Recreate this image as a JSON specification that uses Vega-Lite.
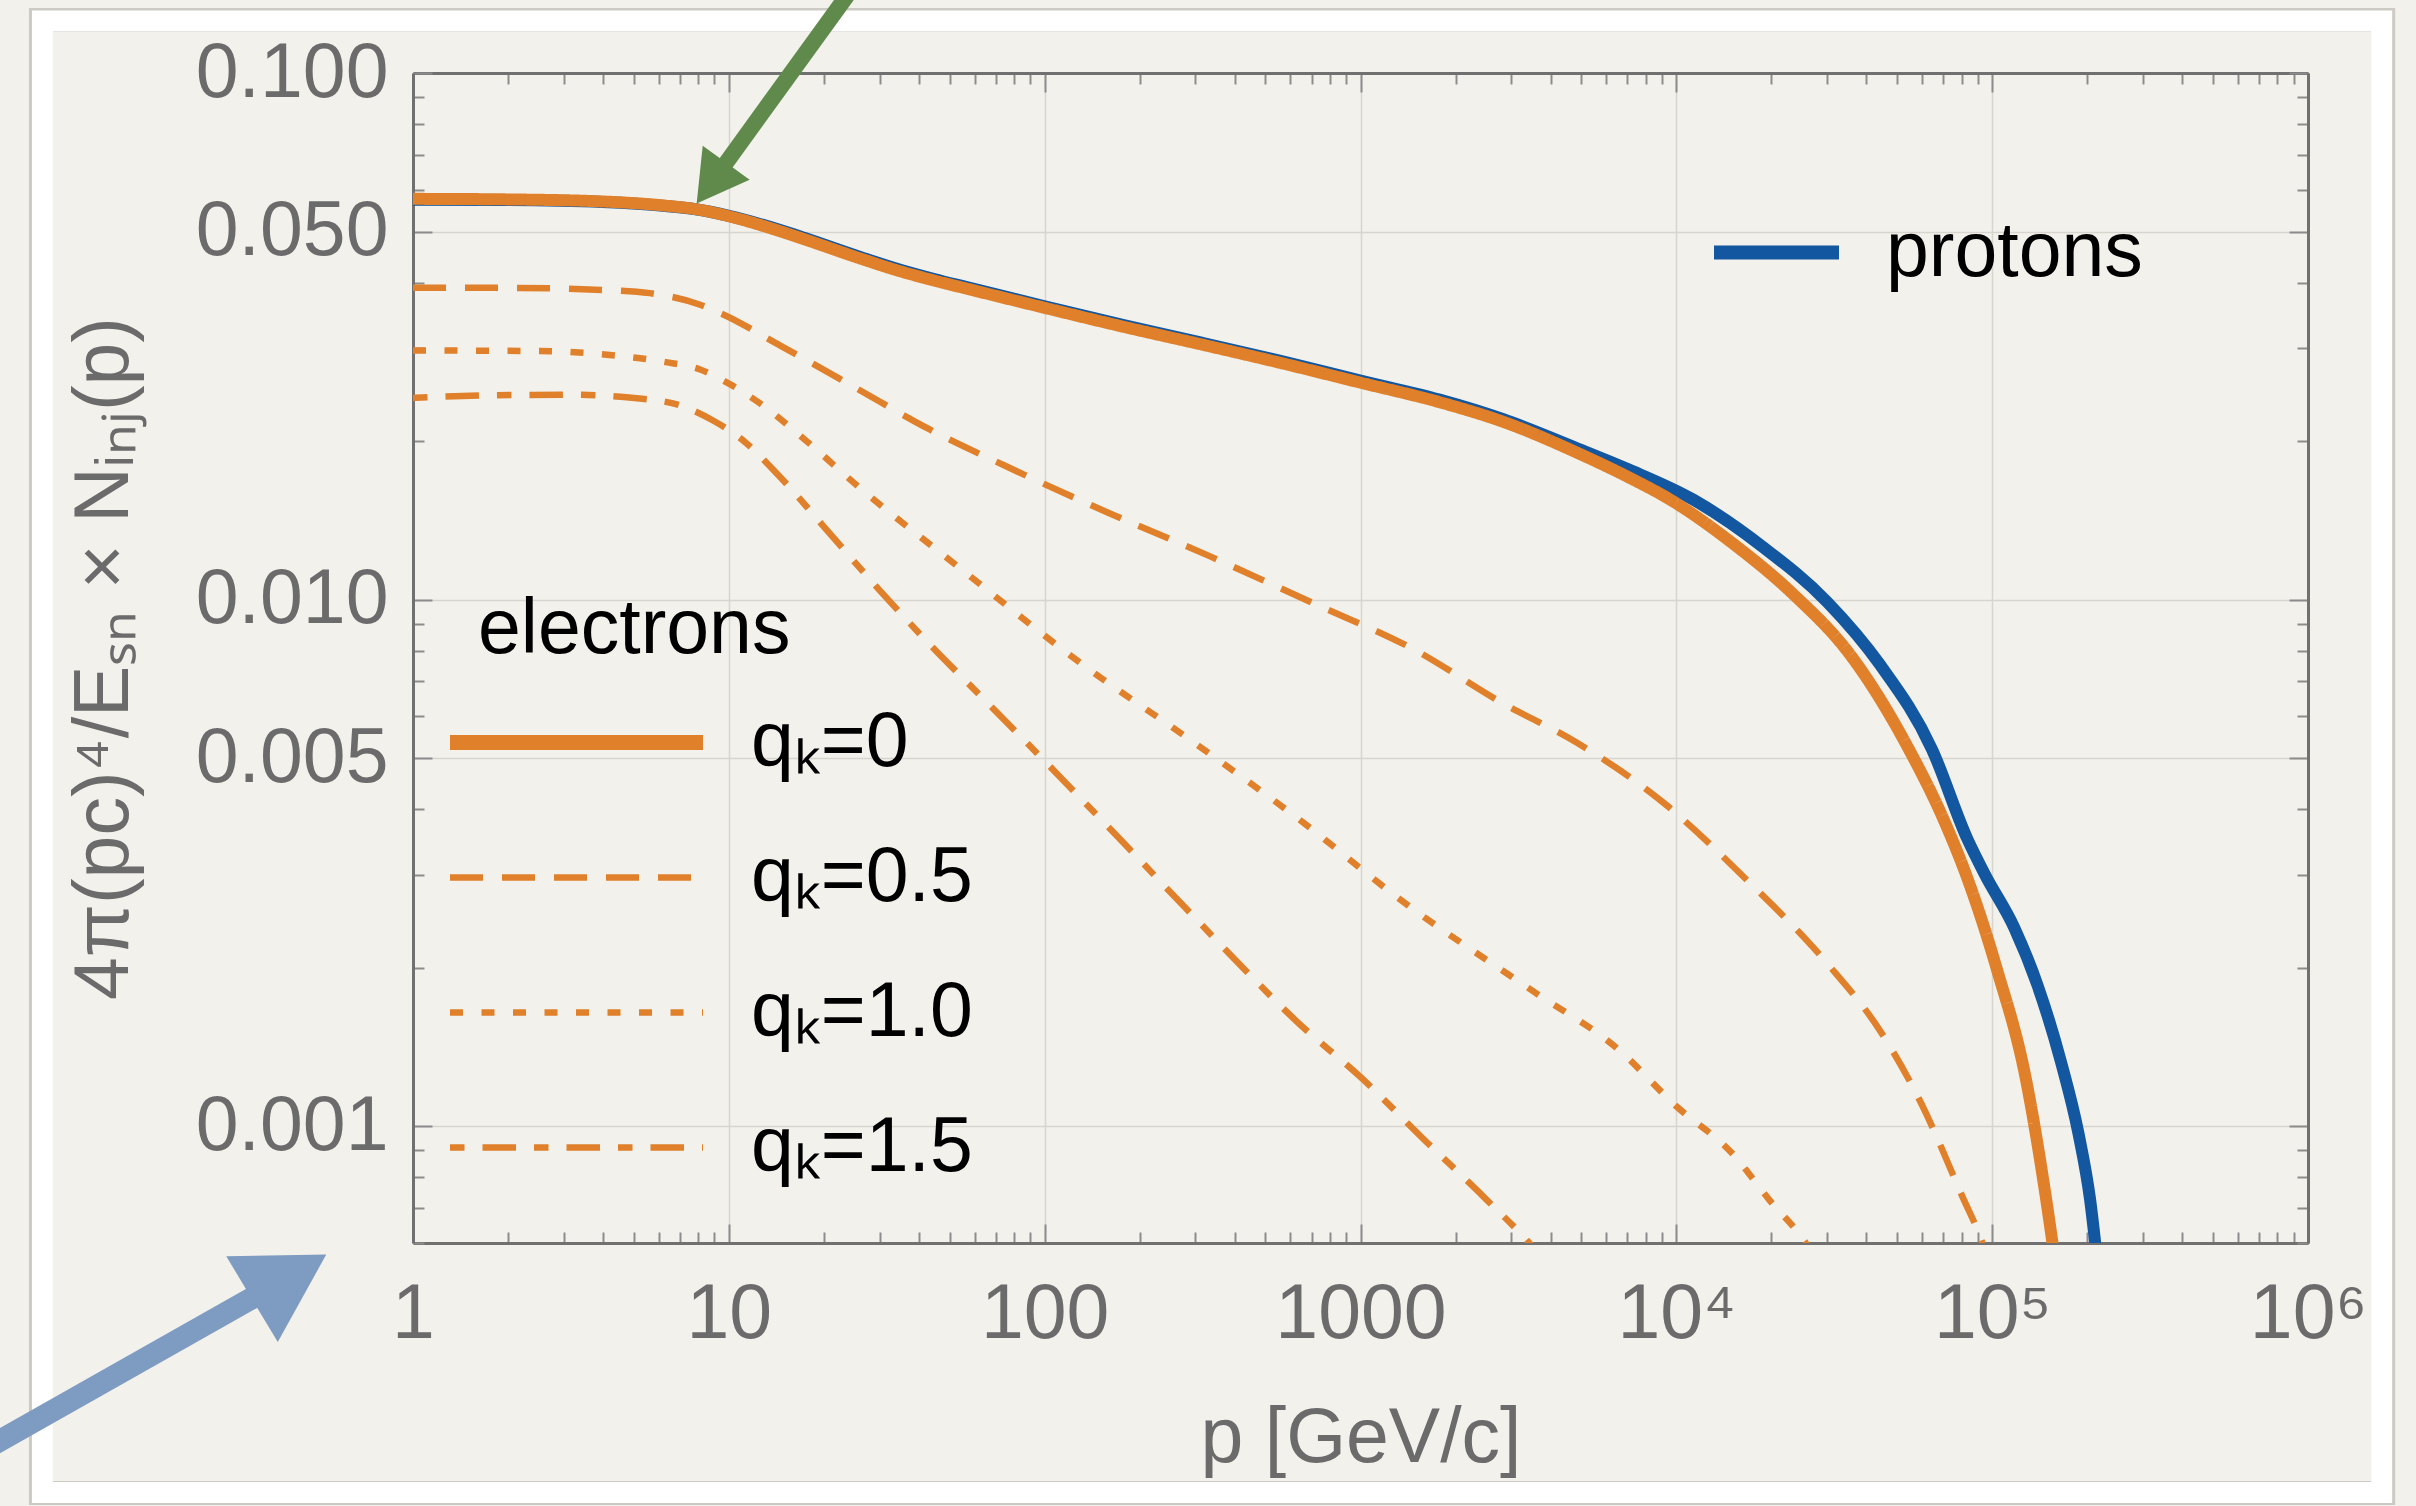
{
  "$schema": "https://vega.github.io/schema/vega-lite/v6.json",
  "width": 1895,
  "height": 1170,
  "autosize": {"type": "none"},
  "padding": {"left": 413, "top": 73, "right": 108, "bottom": 263},
  "background": "#F3F1EC",
  "config": {
    "view": {"stroke": null},
    "font": "Liberation Sans"
  },
  "datasets": {
    "curves": [
      {"series": "protons", "p": 1, "v": 0.05748},
      {"series": "protons", "p": 1.995, "v": 0.0574},
      {"series": "protons", "p": 3.981, "v": 0.0569},
      {"series": "protons", "p": 6.31, "v": 0.0559},
      {"series": "protons", "p": 7.943, "v": 0.05505},
      {"series": "protons", "p": 10, "v": 0.05355},
      {"series": "protons", "p": 14.45, "v": 0.05038},
      {"series": "protons", "p": 17.38, "v": 0.0486},
      {"series": "protons", "p": 26.3, "v": 0.04465},
      {"series": "protons", "p": 34.67, "v": 0.04235},
      {"series": "protons", "p": 44.67, "v": 0.04062},
      {"series": "protons", "p": 56.23, "v": 0.03924},
      {"series": "protons", "p": 100, "v": 0.03605},
      {"series": "protons", "p": 177.8, "v": 0.0332},
      {"series": "protons", "p": 316.2, "v": 0.03072},
      {"series": "protons", "p": 562.3, "v": 0.02836},
      {"series": "protons", "p": 1000, "v": 0.02606},
      {"series": "protons", "p": 1778, "v": 0.02398},
      {"series": "protons", "p": 2818, "v": 0.02203},
      {"series": "protons", "p": 5012, "v": 0.01923},
      {"series": "protons", "p": 7079, "v": 0.01766},
      {"series": "protons", "p": 11298, "v": 0.01549},
      {"series": "protons", "p": 18793, "v": 0.01259},
      {"series": "protons", "p": 30061, "v": 0.00989},
      {"series": "protons", "p": 44055, "v": 0.007534},
      {"series": "protons", "p": 64565, "v": 0.005188},
      {"series": "protons", "p": 83368, "v": 0.003516},
      {"series": "protons", "p": 94842, "v": 0.003006},
      {"series": "protons", "p": 117490, "v": 0.002382},
      {"series": "protons", "p": 139316, "v": 0.001849},
      {"series": "protons", "p": 165196, "v": 0.001324},
      {"series": "protons", "p": 187499, "v": 0.0009705},
      {"series": "protons", "p": 204174, "v": 0.0007261},
      {"series": "protons", "p": 218776, "v": 0.0005012},

      {"series": "qₖ=0", "p": 1, "v": 0.05768},
      {"series": "qₖ=0", "p": 1.995, "v": 0.05754},
      {"series": "qₖ=0", "p": 3.981, "v": 0.05702},
      {"series": "qₖ=0", "p": 6.31, "v": 0.05598},
      {"series": "qₖ=0", "p": 7.943, "v": 0.05508},
      {"series": "qₖ=0", "p": 10, "v": 0.05346},
      {"series": "qₖ=0", "p": 14.45, "v": 0.05012},
      {"series": "qₖ=0", "p": 17.38, "v": 0.04831},
      {"series": "qₖ=0", "p": 26.3, "v": 0.04436},
      {"series": "qₖ=0", "p": 34.67, "v": 0.04207},
      {"series": "qₖ=0", "p": 44.67, "v": 0.04036},
      {"series": "qₖ=0", "p": 56.23, "v": 0.03899},
      {"series": "qₖ=0", "p": 100, "v": 0.03581},
      {"series": "qₖ=0", "p": 177.8, "v": 0.03296},
      {"series": "qₖ=0", "p": 316.2, "v": 0.03048},
      {"series": "qₖ=0", "p": 562.3, "v": 0.02812},
      {"series": "qₖ=0", "p": 1000, "v": 0.02582},
      {"series": "qₖ=0", "p": 1778, "v": 0.02371},
      {"series": "qₖ=0", "p": 2818, "v": 0.02178},
      {"series": "qₖ=0", "p": 5012, "v": 0.01884},
      {"series": "qₖ=0", "p": 7079, "v": 0.01706},
      {"series": "qₖ=0", "p": 9550, "v": 0.01549},
      {"series": "qₖ=0", "p": 15205, "v": 0.01274},
      {"series": "qₖ=0", "p": 23281, "v": 0.01028},
      {"series": "qₖ=0", "p": 35645, "v": 0.007834},
      {"series": "qₖ=0", "p": 54576, "v": 0.005188},
      {"series": "qₖ=0", "p": 70469, "v": 0.003802},
      {"series": "qₖ=0", "p": 83560, "v": 0.002951},
      {"series": "qₖ=0", "p": 103276, "v": 0.001995},
      {"series": "qₖ=0", "p": 127938, "v": 0.001227},
      {"series": "qₖ=0", "p": 148252, "v": 0.0007261},
      {"series": "qₖ=0", "p": 165959, "v": 0.0004467},

      {"series": "qₖ=0.5", "p": 1, "v": 0.03908},
      {"series": "qₖ=0.5", "p": 1.995, "v": 0.03908},
      {"series": "qₖ=0.5", "p": 3.981, "v": 0.03873},
      {"series": "qₖ=0.5", "p": 5.623, "v": 0.03819},
      {"series": "qₖ=0.5", "p": 8.11, "v": 0.03631},
      {"series": "qₖ=0.5", "p": 9.408, "v": 0.03499},
      {"series": "qₖ=0.5", "p": 14.69, "v": 0.03027},
      {"series": "qₖ=0.5", "p": 24.72, "v": 0.02541},
      {"series": "qₖ=0.5", "p": 43.25, "v": 0.02104},
      {"series": "qₖ=0.5", "p": 75.51, "v": 0.01791},
      {"series": "qₖ=0.5", "p": 158.9, "v": 0.01462},
      {"series": "qₖ=0.5", "p": 334.2, "v": 0.01208},
      {"series": "qₖ=0.5", "p": 703.1, "v": 0.009863},
      {"series": "qₖ=0.5", "p": 1479, "v": 0.008035},
      {"series": "qₖ=0.5", "p": 2805, "v": 0.006368},
      {"series": "qₖ=0.5", "p": 4819, "v": 0.005358},
      {"series": "qₖ=0.5", "p": 9120, "v": 0.004111},
      {"series": "qₖ=0.5", "p": 16558, "v": 0.002951},
      {"series": "qₖ=0.5", "p": 30061, "v": 0.002037},
      {"series": "qₖ=0.5", "p": 44055, "v": 0.001521},
      {"series": "qₖ=0.5", "p": 59429, "v": 0.001109},
      {"series": "qₖ=0.5", "p": 79983, "v": 0.0007413},
      {"series": "qₖ=0.5", "p": 92897, "v": 0.0006026},
      {"series": "qₖ=0.5", "p": 102329, "v": 0.0005012},

      {"series": "qₖ=1.0", "p": 1, "v": 0.02972},
      {"series": "qₖ=1.0", "p": 2.512, "v": 0.02965},
      {"series": "qₖ=1.0", "p": 4.467, "v": 0.02904},
      {"series": "qₖ=1.0", "p": 6.31, "v": 0.02825},
      {"series": "qₖ=1.0", "p": 8.11, "v": 0.02735},
      {"series": "qₖ=1.0", "p": 10.14, "v": 0.02559},
      {"series": "qₖ=1.0", "p": 12.59, "v": 0.02355},
      {"series": "qₖ=1.0", "p": 17.7, "v": 0.01995},
      {"series": "qₖ=1.0", "p": 25.64, "v": 0.01641},
      {"series": "qₖ=1.0", "p": 53.09, "v": 0.01156},
      {"series": "qₖ=1.0", "p": 134.3, "v": 0.007464},
      {"series": "qₖ=1.0", "p": 288.4, "v": 0.00542},
      {"series": "qₖ=1.0", "p": 625.2, "v": 0.003864},
      {"series": "qₖ=1.0", "p": 1380, "v": 0.002655},
      {"series": "qₖ=1.0", "p": 3565, "v": 0.001795},
      {"series": "qₖ=1.0", "p": 6486, "v": 0.001406},
      {"series": "qₖ=1.0", "p": 10000, "v": 0.001091},
      {"series": "qₖ=1.0", "p": 15205, "v": 0.000881},
      {"series": "qₖ=1.0", "p": 19634, "v": 0.0007261},
      {"series": "qₖ=1.0", "p": 25586, "v": 0.0006026},
      {"series": "qₖ=1.0", "p": 28840, "v": 0.000537},

      {"series": "qₖ=1.5", "p": 1, "v": 0.02415},
      {"series": "qₖ=1.5", "p": 1.778, "v": 0.02443},
      {"series": "qₖ=1.5", "p": 3.162, "v": 0.02449},
      {"series": "qₖ=1.5", "p": 5.012, "v": 0.02415},
      {"series": "qₖ=1.5", "p": 7.079, "v": 0.02333},
      {"series": "qₖ=1.5", "p": 8.913, "v": 0.02188},
      {"series": "qₖ=1.5", "p": 11.22, "v": 0.01995},
      {"series": "qₖ=1.5", "p": 14.16, "v": 0.01738},
      {"series": "qₖ=1.5", "p": 20.56, "v": 0.01349},
      {"series": "qₖ=1.5", "p": 29.79, "v": 0.01047},
      {"series": "qₖ=1.5", "p": 43.25, "v": 0.008222},
      {"series": "qₖ=1.5", "p": 65.92, "v": 0.006368},
      {"series": "qₖ=1.5", "p": 109.9, "v": 0.004656},
      {"series": "qₖ=1.5", "p": 177, "v": 0.003459},
      {"series": "qₖ=1.5", "p": 283.8, "v": 0.00257},
      {"series": "qₖ=1.5", "p": 422.7, "v": 0.002004},
      {"series": "qₖ=1.5", "p": 625.2, "v": 0.001585},
      {"series": "qₖ=1.5", "p": 1005, "v": 0.001236},
      {"series": "qₖ=1.5", "p": 1618, "v": 0.0009333},
      {"series": "qₖ=1.5", "p": 2500, "v": 0.0007261},
      {"series": "qₖ=1.5", "p": 3565, "v": 0.0005834},
      {"series": "qₖ=1.5", "p": 3981, "v": 0.000537}
    ]
  },
  "resolve": {"axis": {"x": "independent", "y": "independent"}},
  "layer": [
    {
      "data": {"values": [{}]},
      "mark": {"type": "rect", "filled": false, "stroke": "#CDCAC4", "strokeWidth": 24, "clip": false},
      "encoding": {
        "x": {"datum": 0.06638, "type": "quantitative", "scale": {"type": "log"}, "axis": null},
        "x2": {"datum": 1730000},
        "y": {"datum": 0.12606, "type": "quantitative", "scale": {"type": "log"}, "axis": null},
        "y2": {"datum": 0.00020115}
      }
    },
    {
      "data": {"values": [{}]},
      "mark": {"type": "rect", "filled": false, "stroke": "#FFFFFF", "strokeWidth": 21, "clip": false},
      "encoding": {
        "x": {"datum": 0.06711, "type": "quantitative", "scale": {"type": "log"}, "axis": null},
        "x2": {"datum": 1711200},
        "y": {"datum": 0.12551, "type": "quantitative", "scale": {"type": "log"}, "axis": null},
        "y2": {"datum": 0.00020159}
      }
    },
    {
      "data": {"name": "curves"},
      "transform": [{"filter": "datum.series === 'protons'"}],
      "mark": {"type": "line", "strokeWidth": 12, "interpolate": "monotone", "clip": true, "strokeJoin": "round"},
      "encoding": {
        "x": {
          "field": "p", "type": "quantitative",
          "scale": {"type": "log", "domain": [1, 1000000], "nice": false},
          "axis": {
            "orient": "bottom",
            "values": [1,2,3,4,5,6,7,8,9,10,20,30,40,50,60,70,80,90,100,200,300,400,500,600,700,800,900,1000,2000,3000,4000,5000,6000,7000,8000,9000,10000,20000,30000,40000,50000,60000,70000,80000,90000,100000,200000,300000,400000,500000,600000,700000,800000,900000,1000000],
            "labelExpr": "datum.value === 10000 ? '10⁴' : datum.value === 100000 ? '10⁵' : datum.value === 1000000 ? '10⁶' : (indexof([1,10,100,1000], datum.value) >= 0 ? format(datum.value, 'd') : '')",
            "labelOverlap": false, "labelFlush": false, "labelLimit": 1000,
            "labelFont": "Liberation Sans", "labelFontSize": 77, "labelColor": "#6B6B6B", "labelPadding": 52,
            "tickSize": {"condition": {"test": "indexof([1,10,100,1000,10000,100000,1000000], datum.value) >= 0", "value": -19}, "value": -11},
            "tickColor": "#8C8C8C", "tickWidth": 2,
            "domainColor": "#707070", "domainWidth": 3,
            "grid": true, "gridColor": "#D8D5CF", "gridWidth": 1.5,
            "gridOpacity": {"condition": {"test": "indexof([1,10,100,1000,10000,100000,1000000], datum.value) >= 0", "value": 1}, "value": 0},
            "title": "p [GeV/c]", "titleFont": "Liberation Sans", "titleFontSize": 77, "titleFontWeight": "normal", "titleColor": "#6B6B6B", "titlePadding": 40
          }
        },
        "y": {
          "field": "v", "type": "quantitative",
          "scale": {"type": "log", "domain": [0.0006, 0.1], "nice": false},
          "axis": {
            "orient": "left",
            "values": [0.0006,0.0007,0.0008,0.0009,0.001,0.002,0.003,0.004,0.005,0.006,0.007,0.008,0.009,0.01,0.02,0.03,0.04,0.05,0.06,0.07,0.08,0.09,0.1],
            "labelExpr": "indexof([0.001,0.005,0.01,0.05,0.1], datum.value) >= 0 ? format(datum.value, '.3f') : ''",
            "labelOverlap": false, "labelFlush": false, "labelLimit": 1000,
            "labelFont": "Liberation Sans", "labelFontSize": 77, "labelColor": "#6B6B6B", "labelPadding": 44,
            "tickSize": {"condition": {"test": "indexof([0.001,0.005,0.01,0.05,0.1], datum.value) >= 0", "value": -19}, "value": -11},
            "tickColor": "#8C8C8C", "tickWidth": 2,
            "domainColor": "#707070", "domainWidth": 3,
            "grid": true, "gridColor": "#D8D5CF", "gridWidth": 1.5,
            "gridOpacity": {"condition": {"test": "indexof([0.001,0.005,0.01,0.05,0.1], datum.value) >= 0", "value": 1}, "value": 0},
            "title": "4π(pc)⁴/Eₛₙ × Nᵢₙⱼ(p)", "titleFont": "Liberation Sans", "titleFontSize": 77, "titleFontWeight": "normal", "titleColor": "#6B6B6B", "titlePadding": 70
          }
        },
        "stroke": {
          "field": "series", "type": "nominal",
          "scale": {"domain": ["protons"], "range": ["#12579F"]},
          "legend": {
            "orient": "none", "legendX": 1294, "legendY": 110, "title": null, "padding": 0,
            "symbolType": "stroke", "symbolSize": 15625, "symbolStrokeWidth": 14,
            "labelFont": "Liberation Sans", "labelFontSize": 77, "labelColor": "#000000", "labelOffset": 40, "labelLimit": 1000
          }
        }
      }
    },
    {
      "data": {"name": "curves"},
      "transform": [{"filter": "datum.series !== 'protons'"}],
      "mark": {"type": "line", "interpolate": "monotone", "clip": true, "strokeCap": "butt", "strokeJoin": "round"},
      "encoding": {
        "x": {
          "field": "p", "type": "quantitative",
          "scale": {"type": "log", "domain": [1, 1000000], "nice": false},
          "axis": {
            "orient": "top",
            "values": [1,2,3,4,5,6,7,8,9,10,20,30,40,50,60,70,80,90,100,200,300,400,500,600,700,800,900,1000,2000,3000,4000,5000,6000,7000,8000,9000,10000,20000,30000,40000,50000,60000,70000,80000,90000,100000,200000,300000,400000,500000,600000,700000,800000,900000,1000000],
            "labels": false, "grid": false, "title": null,
            "tickSize": {"condition": {"test": "indexof([1,10,100,1000,10000,100000,1000000], datum.value) >= 0", "value": -19}, "value": -11},
            "tickColor": "#8C8C8C", "tickWidth": 2,
            "domainColor": "#707070", "domainWidth": 3
          }
        },
        "y": {
          "field": "v", "type": "quantitative",
          "scale": {"type": "log", "domain": [0.0006, 0.1], "nice": false},
          "axis": {
            "orient": "right",
            "values": [0.0006,0.0007,0.0008,0.0009,0.001,0.002,0.003,0.004,0.005,0.006,0.007,0.008,0.009,0.01,0.02,0.03,0.04,0.05,0.06,0.07,0.08,0.09,0.1],
            "labels": false, "grid": false, "title": null,
            "tickSize": {"condition": {"test": "indexof([0.001,0.005,0.01,0.05,0.1], datum.value) >= 0", "value": -19}, "value": -11},
            "tickColor": "#8C8C8C", "tickWidth": 2,
            "domainColor": "#707070", "domainWidth": 3
          }
        },
        "color": {
          "field": "series", "type": "nominal", "title": "electrons",
          "scale": {"domain": ["qₖ=0", "qₖ=0.5", "qₖ=1.0", "qₖ=1.5"], "range": ["#E0802B", "#E0802B", "#E0802B", "#E0802B"]},
          "legend": {
            "orient": "none", "legendX": 65, "legendY": 519, "padding": 0,
            "titleFont": "Liberation Sans", "titleFontSize": 77, "titleFontWeight": "normal", "titleColor": "#000000", "titlePadding": 35, "titleLimit": 1000,
            "symbolType": "stroke", "symbolSize": 64009, "symbolStrokeWidth": 7, "symbolOffset": 60,
            "labelFont": "Liberation Sans", "labelFontSize": 77, "labelColor": "#000000", "labelOffset": 136, "labelLimit": 1000,
            "rowPadding": 57,
            "encode": {"symbols": {"update": {"strokeWidth": {"signal": "datum.value === 'qₖ=0' ? 15 : 6.7"}}}}
          }
        },
        "strokeDash": {
          "field": "series", "type": "nominal", "title": "electrons",
          "scale": {"domain": ["qₖ=0", "qₖ=0.5", "qₖ=1.0", "qₖ=1.5"], "range": [[1, 0], [33, 19], [13, 18.5], [14.5, 18, 33.5, 18]]}
        },
        "strokeWidth": {"condition": {"test": "datum.series === 'qₖ=0'", "value": 12}, "value": 6.5}
      }
    },
    {
      "data": {"values": [{}]},
      "mark": {"type": "rule", "color": "#5F8A4B", "strokeWidth": 16, "strokeCap": "butt", "clip": false},
      "encoding": {
        "x": {"datum": 24.38, "type": "quantitative", "scale": {"type": "log"}, "axis": null},
        "y": {"datum": 0.1437, "type": "quantitative", "scale": {"type": "log"}, "axis": null},
        "x2": {"datum": 9.129},
        "y2": {"datum": 0.06364}
      }
    },
    {
      "data": {"values": [{}]},
      "mark": {"type": "point", "shape": "triangle", "size": 3364, "angle": 216, "filled": true, "color": "#5F8A4B", "opacity": 1, "clip": false},
      "encoding": {
        "x": {"datum": 9.129, "type": "quantitative", "scale": {"type": "log"}, "axis": null},
        "y": {"datum": 0.06364, "type": "quantitative", "scale": {"type": "log"}, "axis": null}
      }
    },
    {
      "data": {"values": [{}]},
      "mark": {"type": "rule", "color": "#7E9BC1", "strokeWidth": 22, "strokeCap": "butt", "clip": false},
      "encoding": {
        "x": {"datum": 0.04255, "type": "quantitative", "scale": {"type": "log"}, "axis": null},
        "y": {"datum": 0.0002406, "type": "quantitative", "scale": {"type": "log"}, "axis": null},
        "x2": {"datum": 0.3704},
        "y2": {"datum": 0.000501}
      }
    },
    {
      "data": {"values": [{}]},
      "mark": {"type": "point", "shape": "triangle", "size": 10000, "angle": 59, "filled": true, "color": "#7E9BC1", "opacity": 1, "clip": false},
      "encoding": {
        "x": {"datum": 0.3704, "type": "quantitative", "scale": {"type": "log"}, "axis": null},
        "y": {"datum": 0.000501, "type": "quantitative", "scale": {"type": "log"}, "axis": null}
      }
    }
  ]
}
